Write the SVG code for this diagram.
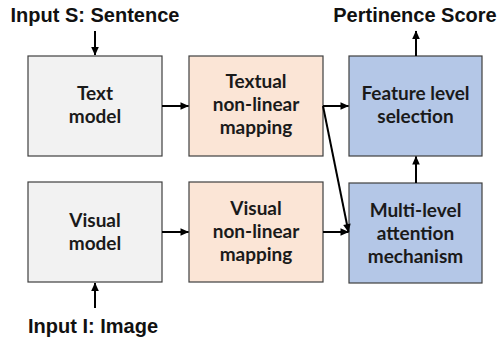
<svg xmlns="http://www.w3.org/2000/svg" width="501" height="337" viewBox="0 0 501 337">
<style>
.box{stroke:#3f3f3f;stroke-width:1.2}
.gray{fill:#f2f2f2}
.peach{fill:#fbe5d6}
.blue{fill:#b4c7e7}
.lbl{font-family:Lato,"Open Sans",sans-serif;font-weight:bold;font-size:19px;fill:#1a1a1a;text-anchor:middle}
.io{font-family:"Liberation Sans",Arial,sans-serif;font-weight:bold;font-size:20px;fill:#111;text-anchor:middle}
.conn{stroke:#000;stroke-width:2;fill:none;marker-end:url(#ah)}
</style>
<defs>
<marker id="ah" markerUnits="userSpaceOnUse" markerWidth="10" markerHeight="10" viewBox="0 0 10 10" refX="9" refY="5" orient="auto">
<path d="M1,1.2 L9.5,5 L1,8.8 z" fill="#000"/>
</marker>
</defs>
<rect width="501" height="337" fill="#fff"/>
<text class="io" x="95" y="22">Input S: Sentence</text>
<text class="io" x="415" y="22">Pertinence Score</text>
<text class="io" x="93" y="333">Input I: Image</text>
<g id="text-model">
<rect class="box gray" x="28" y="56" width="134" height="100"/>
<text class="lbl" x="95" y="100">Text</text>
<text class="lbl" x="95" y="123">model</text>
</g>
<g id="textual-mapping">
<rect class="box peach" x="189" y="56" width="134" height="100"/>
<text class="lbl" x="256" y="88">Textual</text>
<text class="lbl" x="256" y="111">non-linear</text>
<text class="lbl" x="256" y="134">mapping</text>
</g>
<g id="feature-selection">
<rect class="box blue" x="349" y="56" width="133" height="100"/>
<text class="lbl" x="415.5" y="100">Feature level</text>
<text class="lbl" x="415.5" y="123">selection</text>
</g>
<g id="visual-model">
<rect class="box gray" x="28" y="182" width="134" height="100"/>
<text class="lbl" x="95" y="227">Visual</text>
<text class="lbl" x="95" y="250">model</text>
</g>
<g id="visual-mapping">
<rect class="box peach" x="189" y="182" width="134" height="100"/>
<text class="lbl" x="256" y="215">Visual</text>
<text class="lbl" x="256" y="238">non-linear</text>
<text class="lbl" x="256" y="261">mapping</text>
</g>
<g id="multi-level-attention">
<rect class="box blue" x="349" y="183" width="133" height="100"/>
<text class="lbl" x="415.5" y="217">Multi-level</text>
<text class="lbl" x="415.5" y="240">attention</text>
<text class="lbl" x="415.5" y="263">mechanism</text>
</g>
<g id="connectors">
<line class="conn" x1="95" y1="31" x2="95" y2="55"/>
<line class="conn" x1="95" y1="308" x2="95" y2="283"/>
<line class="conn" x1="162" y1="106" x2="188.5" y2="106"/>
<line class="conn" x1="162" y1="232" x2="188.5" y2="232"/>
<line class="conn" x1="323" y1="106" x2="348.5" y2="106"/>
<line class="conn" x1="323" y1="106" x2="348.5" y2="232"/>
<line class="conn" x1="323" y1="232" x2="348.5" y2="232"/>
<line class="conn" x1="416" y1="183" x2="416" y2="156.5"/>
<line class="conn" x1="416" y1="56" x2="416" y2="31"/>
</g>
</svg>
